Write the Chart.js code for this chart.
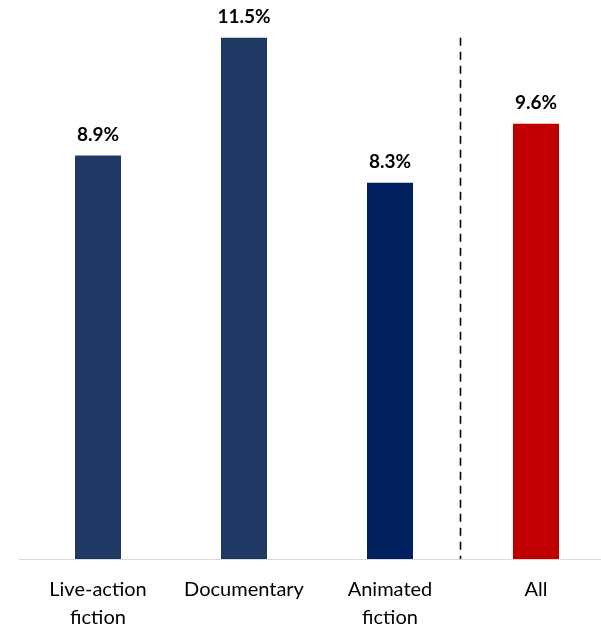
<!DOCTYPE html>
<html>
<head>
<meta charset="utf-8">
<script src="https://cdn.jsdelivr.net/npm/chart.js@4"></script>
<style>
html,body{margin:0;padding:0;background:#fff;overflow:hidden;width:601px;height:628px;}
#wrap{width:610px;height:628px;}
</style>
</head>
<body>
<div id="wrap"><canvas id="c" width="610" height="628"></canvas></div>
<script>
const categories = [["Live-action","fiction"], "Documentary", ["Animated","fiction"], "All"];
const values = [8.9, 11.5, 8.3, 9.6];
const valueLabels = ["8.9%", "11.5%", "8.3%", "9.6%"];
const barColors = ["#203864", "#203864", "#002060", "#C00000"];

const labelPlugin = {
  id: 'labels',
  afterDatasetsDraw(chart) {
    const ctx = chart.ctx;
    const meta = chart.getDatasetMeta(0);
    ctx.save();
    ctx.font = 'bold 19px Lato, "Open Sans", sans-serif';
    ctx.fillStyle = '#000';
    ctx.textAlign = 'center';
    ctx.textBaseline = 'alphabetic';
    meta.data.forEach((bar, i) => {
      ctx.fillText(valueLabels[i], bar.x, bar.y - 15);
    });
    ctx.restore();
  }
};

const linesPlugin = {
  id: 'lines',
  beforeDatasetsDraw(chart) {
    const ctx = chart.ctx;
    const x = chart.scales.x;
    const y = chart.scales.y;
    const base = y.getPixelForValue(0);
    ctx.save();
    ctx.strokeStyle = '#d9d9d9';
    ctx.lineWidth = 1;
    ctx.beginPath();
    ctx.moveTo(19, Math.round(base) + 0.5);
    ctx.lineTo(chart.width, Math.round(base) + 0.5);
    ctx.stroke();
    const sx = Math.round((x.getPixelForValue(2) + x.getPixelForValue(3)) / 2 - 3) + 0.5;
    ctx.strokeStyle = '#000';
    ctx.lineWidth = 1.6;
    ctx.setLineDash([8, 6]);
    ctx.beginPath();
    ctx.moveTo(sx, y.getPixelForValue(Math.max(...values)));
    ctx.lineTo(sx, base);
    ctx.stroke();
    ctx.restore();
  }
};

new Chart(document.getElementById('c'), {
  type: 'bar',
  data: {
    labels: categories,
    datasets: [{
      data: values,
      backgroundColor: barColors,
      borderWidth: 0,
      barPercentage: 1,
      categoryPercentage: 0.315
    }]
  },
  options: {
    responsive: false,
    animation: false,
    devicePixelRatio: 1,
    layout: { padding: { top: 15, left: 25, right: 1, bottom: 0 } },
    plugins: { legend: { display: false }, tooltip: { enabled: false } },
    scales: {
      y: { display: false, min: 0, max: 12 },
      x: {
        grid: { display: false },
        border: { display: false },
        afterFit(scale) { scale.height = 69; },
        ticks: {
          color: '#000',
          padding: 9,
          maxRotation: 0,
          autoSkip: false,
          font: { family: 'Lato, "Open Sans", sans-serif', size: 20, lineHeight: 1.4 }
        }
      }
    }
  },
  plugins: [linesPlugin, labelPlugin]
});
</script>
</body>
</html>
